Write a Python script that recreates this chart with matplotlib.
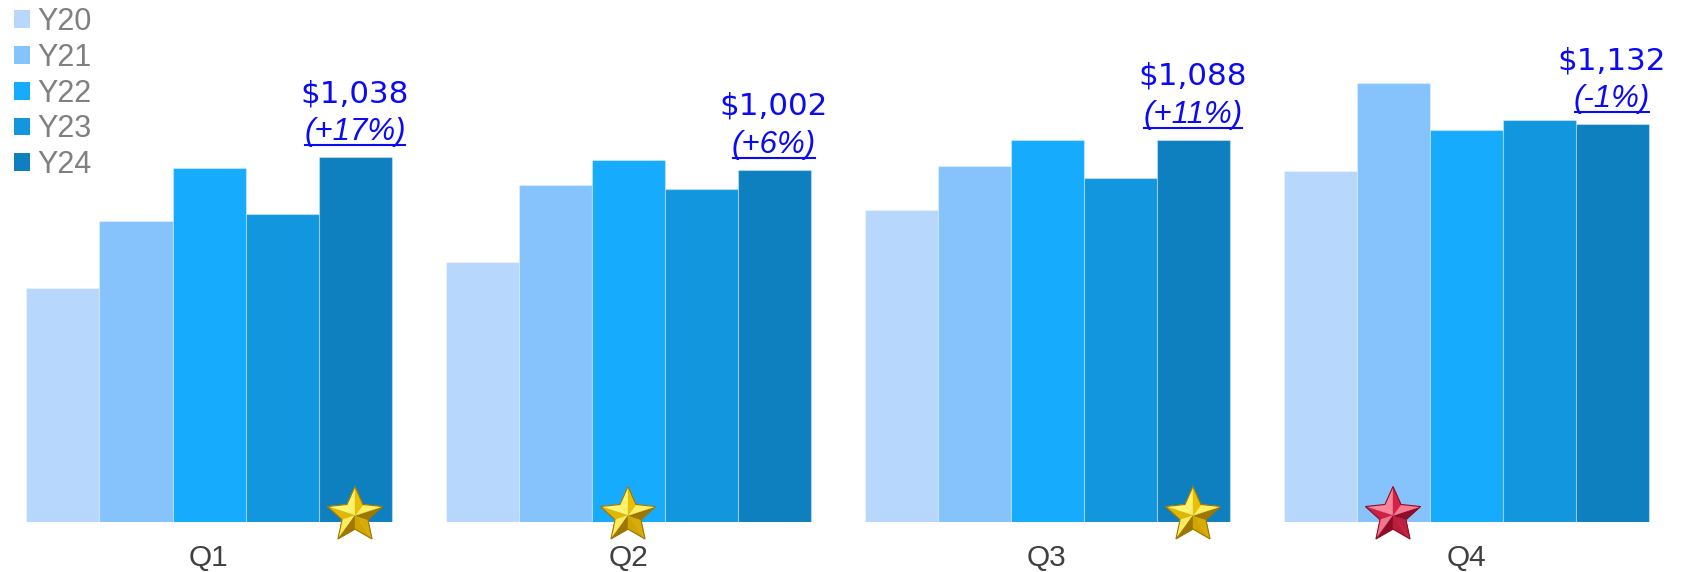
import numpy as np
import matplotlib
matplotlib.use("Agg")
import matplotlib.pyplot as plt
from matplotlib.patches import Patch, Polygon
from matplotlib.lines import Line2D
from matplotlib import transforms

# ---- data -------------------------------------------------------------
quarters = ["Q1", "Q2", "Q3", "Q4"]
series = ["Y20", "Y21", "Y22", "Y23", "Y24"]
y20 = [666, 740, 888, 998]
y21 = [856, 960, 1012, 1249]
y22 = [1007, 1030, 1087, 1116]
y23 = [876, 947, 979, 1144]
y24 = [1038, 1002, 1088, 1132]
pct_labels = ["(+17%)", "(+6%)", "(+11%)", "(-1%)"]
# series index carrying the badge in each quarter, and the badge colour
star_series = [4, 2, 4, 1]
star_kind = ["gold", "gold", "gold", "red"]

values = [y20, y21, y22, y23, y24]
colors = ["#B7D7FD", "#86C3FC", "#17ABFE", "#1297DF", "#0F80BF"]

# ---- figure -----------------------------------------------------------
W, H, DPI = 1682, 572, 100
fig = plt.figure(figsize=(W / DPI, H / DPI), dpi=DPI)
fig.patch.set_facecolor("white")

base_px = 521.5          # baseline, pixels from the top
ax = fig.add_axes([0, (H - base_px) / H, 1, base_px / H])
group_px = 419.0
first_center_px = 209.0
ax.set_xlim(-first_center_px / group_px, (W - first_center_px) / group_px)
ax.set_ylim(0, base_px * 2.85)
for s in ax.spines.values():
    s.set_visible(False)
ax.set_yticks([])

bw = 73.0 / group_px
x = np.arange(len(quarters))
for i, (name, vals, col) in enumerate(zip(series, values, colors)):
    ax.bar(x + (i - 2) * bw, vals, width=bw, color=col, label=name,
           edgecolor=(1, 1, 1, 0.35), linewidth=0.8, zorder=2)

ax.set_xticks(x, quarters)
ax.tick_params(axis="x", length=0, pad=16.5, labelsize=21.5, labelcolor="#404040")
for lab in ax.get_xticklabels():
    lab.set_fontfamily("Liberation Sans")

# ---- legend -----------------------------------------------------------
handles = [Patch(facecolor=c, edgecolor="none") for c in colors]
leg = fig.legend(handles, series, loc="upper left",
                 bbox_to_anchor=(14 / W, 1 - 7 / H), frameon=False,
                 borderpad=0, borderaxespad=0, handlelength=0.52,
                 handleheight=0.52, handletextpad=0.23, labelspacing=0.19,
                 prop={"family": "Liberation Sans", "size": 22},
                 labelcolor="#808080")

# ---- value / change labels above the Y24 bars -------------------------
blue = "#0A0AF5"
val_off_px, pct_off_px = 55.0, 17.0
pct_texts = []
for q in range(len(quarters)):
    xc = q + 2 * bw
    ax.annotate(f"${y24[q]:,}", xy=(xc, y24[q]), xytext=(0, val_off_px * 0.72),
                textcoords="offset points", ha="center", va="baseline",
                fontsize=22.3, color=blue, family="DejaVu Sans",
                annotation_clip=False)
    t = ax.annotate(pct_labels[q], xy=(xc, y24[q]), xytext=(0, pct_off_px * 0.72),
                    textcoords="offset points", ha="center", va="baseline",
                    fontsize=22.5, color=blue, family="Liberation Sans",
                    style="italic", annotation_clip=False)
    pct_texts.append((t, xc, y24[q]))

# underline the change labels
fig.canvas.draw()
renderer = fig.canvas.get_renderer()
inv = fig.transFigure.inverted()
for t, xc, top in pct_texts:
    bb = t.get_window_extent(renderer)
    base_y = ax.transData.transform((xc, top))[1] + pct_off_px
    uy = base_y - 5
    (fx0, fy), (fx1, _) = inv.transform([(bb.x0 + 1, uy), (bb.x1 - 1, uy)])
    fig.add_artist(Line2D([fx0, fx1], [fy, fy], transform=fig.transFigure,
                          color=blue, linewidth=1.5))

# ---- bevelled star badges at the foot of selected bars -----------------
palettes = {
    "gold": ((0.62, 0.46, 0.00), (0.97, 0.80, 0.02), (1.00, 0.98, 0.50)),
    "red": ((0.55, 0.05, 0.15), (0.88, 0.16, 0.30), (1.00, 0.58, 0.66)),
}


def mix(a, b, t):
    return tuple(a[k] + (b[k] - a[k]) * t for k in range(3))


def draw_star(xc, kind):
    dark, mid, light = palettes[kind]
    R, r = 0.29, 0.29 * 0.47
    cy = 0.06
    ang = np.deg2rad(90 + 36 * np.arange(10))
    rad = np.where(np.arange(10) % 2 == 0, R, r)
    pts = np.column_stack([rad * np.cos(ang), cy + rad * np.sin(ang)])
    trans = fig.dpi_scale_trans + transforms.ScaledTranslation(xc, 0, ax.transData)
    light_dir = np.array([-0.55, 0.83])
    center = np.array([0.0, cy])
    for k in range(10):
        p1, p2 = pts[k], pts[(k + 1) % 10]
        e = p2 - p1
        n = np.array([e[1], -e[0]])
        n /= np.linalg.norm(n)
        b = float(np.dot(n, light_dir))
        col = mix(mid, light, b) if b >= 0 else mix(mid, dark, -b)
        ax.add_patch(Polygon([center, p1, p2], closed=True, facecolor=col,
                             edgecolor=col, linewidth=0.3, transform=trans,
                             clip_on=False, zorder=5))
    ax.add_patch(Polygon(pts, closed=True, facecolor="none", edgecolor=dark,
                         linewidth=0.8, transform=trans, clip_on=False,
                         zorder=6))


for q, (si, kind) in enumerate(zip(star_series, star_kind)):
    draw_star(q + (si - 2) * bw, kind)

fig.savefig("out.png", dpi=DPI, facecolor="white")
